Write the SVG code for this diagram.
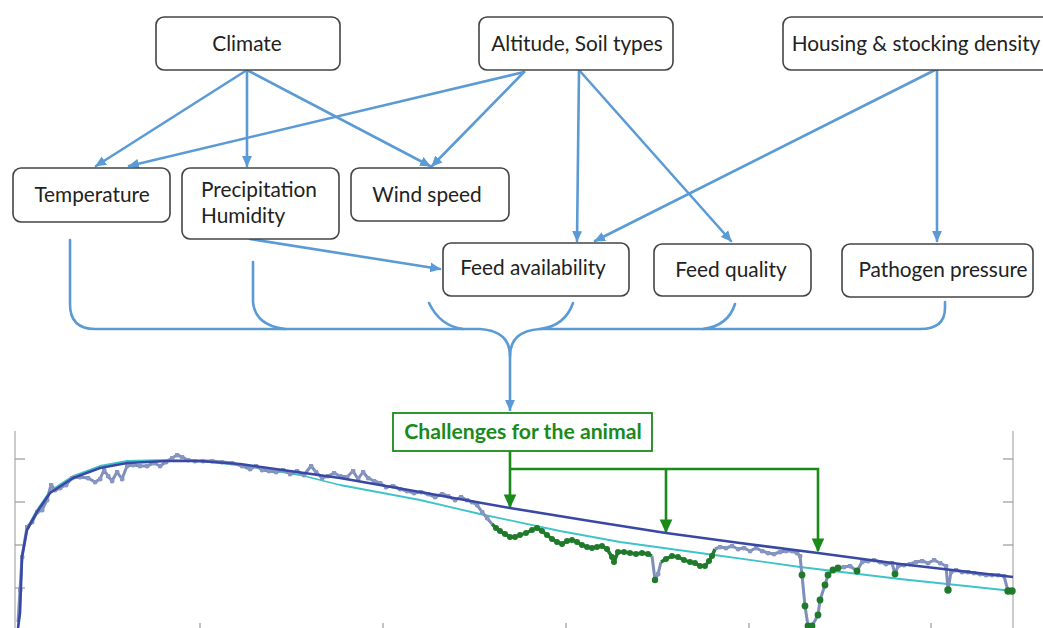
<svg xmlns="http://www.w3.org/2000/svg" width="1043" height="628" viewBox="0 0 1043 628">
<style>
.box{fill:#fff;stroke:#444;stroke-width:1.6}
.t{font-family:Lato,"Liberation Sans",sans-serif;font-size:20.8px;fill:#222}
.c{text-anchor:middle}
.con{fill:none;stroke:#5b9bd5;stroke-width:2.6;stroke-linecap:round}
.g{fill:none;stroke:#1a8a1a;stroke-width:2.6}
.axis{stroke:#bbb;stroke-width:1.5}
.tick{stroke:#999;stroke-width:1.2}
.obs{fill:none;stroke:#7f8fbc;stroke-width:3;stroke-linejoin:round;marker-mid:url(#dotg)}
.obsg{fill:none;stroke:#227a2e;stroke-width:3.4;stroke-linejoin:round;marker-mid:url(#dotgr)}
</style>
<defs>
<marker id="ab" viewBox="0 0 10 10" refX="9" refY="5" markerWidth="11" markerHeight="11" markerUnits="userSpaceOnUse" orient="auto">
<path d="M0,0.5 L10,5 L0,9.5 z" fill="#5b9bd5"/>
</marker>
<marker id="ag" viewBox="0 0 10 10" refX="9" refY="5" markerWidth="14" markerHeight="14" markerUnits="userSpaceOnUse" orient="auto">
<path d="M0,0.5 L10,5 L0,9.5 z" fill="#1a8a1a"/>
</marker>
<marker id="dotg" viewBox="0 0 6 6" refX="3" refY="3" markerWidth="5" markerHeight="5" markerUnits="userSpaceOnUse">
<circle cx="3" cy="3" r="3" fill="#8797c0"/>
</marker>
<marker id="dotgr" viewBox="0 0 6 6" refX="3" refY="3" markerWidth="6" markerHeight="6" markerUnits="userSpaceOnUse">
<circle cx="3" cy="3" r="3" fill="#1f7a2c"/>
</marker>
</defs>

<g id="connectors">
<line class="con" x1="247" y1="70" x2="96" y2="166" marker-end="url(#ab)"/>
<line class="con" x1="247" y1="70" x2="247" y2="166" marker-end="url(#ab)"/>
<line class="con" x1="247" y1="70" x2="430" y2="166" marker-end="url(#ab)"/>
<line class="con" x1="524" y1="72" x2="129" y2="166" marker-end="url(#ab)"/>
<line class="con" x1="524" y1="72" x2="432" y2="166" marker-end="url(#ab)"/>
<line class="con" x1="579" y1="70" x2="577" y2="241" marker-end="url(#ab)"/>
<line class="con" x1="579" y1="70" x2="731" y2="241" marker-end="url(#ab)"/>
<line class="con" x1="935" y1="70" x2="595" y2="241" marker-end="url(#ab)"/>
<line class="con" x1="937" y1="70" x2="937" y2="241" marker-end="url(#ab)"/>
<line class="con" x1="250" y1="239" x2="440" y2="269" marker-end="url(#ab)"/>
<path class="con" d="M70,240 L70,304 Q70,329 95,329 L480,329 Q510,331 510,356 L510,410" marker-end="url(#ab)"/>
<path class="con" d="M945,302 L945,308 Q945,329 920,329 L540,329 Q510,331 510,356"/>
<path class="con" d="M253,262 L253,302 Q255,325 285,329"/>
<path class="con" d="M429,303 Q440,326 463,329"/>
<path class="con" d="M573,303 Q565,326 540,329"/>
<path class="con" d="M735,304 Q728,326 703,329"/>
<line class="g" x1="510" y1="451" x2="510" y2="507" marker-end="url(#ag)"/>
<polyline class="g" points="510,469 818,469 818,551" marker-end="url(#ag)"/>
<line class="g" x1="666" y1="469" x2="666" y2="532" marker-end="url(#ag)"/>
</g>

<g id="climate"><rect class="box" x="156" y="17" width="184" height="53" rx="8"/><text class="t c" x="247" y="51">Climate</text></g>
<g id="altitude"><rect class="box" x="479" y="17" width="194" height="53" rx="8"/><text class="t c" x="577" y="51">Altitude, Soil types</text></g>
<g id="housing"><rect class="box" x="783" y="17" width="270" height="53" rx="8"/><text class="t c" x="916" y="51">Housing &amp; stocking density</text></g>
<g id="temperature"><rect class="box" x="13" y="168" width="157" height="54" rx="8"/><text class="t c" x="92" y="202">Temperature</text></g>
<g id="precipitation"><rect class="box" x="182" y="168" width="157" height="71" rx="8"/><text class="t" x="201" y="197">Precipitation</text><text class="t" x="201" y="223">Humidity</text></g>
<g id="wind"><rect class="box" x="351" y="168" width="158" height="53" rx="8"/><text class="t c" x="427" y="202">Wind speed</text></g>
<g id="feedavail"><rect class="box" x="443" y="243" width="186" height="53" rx="8"/><text class="t c" x="533" y="275">Feed availability</text></g>
<g id="feedquality"><rect class="box" x="654" y="244" width="157" height="52" rx="8"/><text class="t c" x="731" y="277">Feed quality</text></g>
<g id="pathogen"><rect class="box" x="842" y="244" width="191" height="53" rx="8"/><text class="t c" x="943" y="277">Pathogen pressure</text></g>
<g id="challenges"><rect x="393" y="413" width="259" height="38" fill="#fff" stroke="#1a8a1a" stroke-width="1.8"/><text x="523" y="439" text-anchor="middle" font-family="Lato,'Liberation Sans',sans-serif" font-size="21.2" font-weight="bold" fill="#1a8a1a">Challenges for the animal</text></g>

<g id="chart">
<line class="axis" x1="15" y1="431" x2="15" y2="628"/>
<line class="axis" x1="1013" y1="431" x2="1013" y2="628"/>
<g class="tick">
<line x1="15" y1="459" x2="25" y2="459"/><line x1="15" y1="502" x2="25" y2="502"/><line x1="15" y1="545" x2="25" y2="545"/><line x1="15" y1="588" x2="25" y2="588"/>
<line x1="1003" y1="459" x2="1013" y2="459"/><line x1="1003" y1="502" x2="1013" y2="502"/><line x1="1003" y1="545" x2="1013" y2="545"/>
<line x1="200" y1="623" x2="200" y2="628"/><line x1="383" y1="623" x2="383" y2="628"/><line x1="566" y1="623" x2="566" y2="628"/><line x1="749" y1="623" x2="749" y2="628"/><line x1="931" y1="623" x2="931" y2="628"/>
</g>
<polyline fill="none" stroke="#3ec4c8" stroke-width="1.8" stroke-linejoin="round" points="18,628 20,612 22,556 27,528 37,510 50,491 73,476 100,466 127,461 167,460 200,461 240,465 300,475 340,485 420,500 480,514 560,531 620,542 700,553 800,567 900,579 1013,591"/>
<polyline class="obs" points="18,622 20,590 22,557 27,527 32,522 37,512 42,510 47,500 51,485 55,490 60,488 66,485 72,478 80,477 88,478 95,482 100,479 104,470 108,476 112,481 117,472 122,479 127,466 133,465 140,466 147,466 154,463 160,466 166,462 172,458 177,455 182,457 188,460 195,461 203,461 212,461 222,462 232,463 242,466 250,469 256,466 262,470 269,471 276,472 283,470 290,474 297,471 304,475 311,466 316,472 322,478 328,476 334,473 340,476 347,477 353,471 358,479 363,472 368,478 374,481 380,483 386,487 393,486 400,489 407,491 414,493 421,492 428,494 435,497 442,494 448,496 455,500 461,497 467,500 472,502 477,505 482,512 487,518 492,524"/>
<polyline class="obsg" points="492,524 496,528 500,531 505,534 510,537 515,537 520,535 526,533 532,530 537,528 542,531 547,535 552,539 557,542 562,544 567,541 572,540 577,542 582,545 587,547 592,548 597,547 602,546 607,549 612,557 614,562 618,552 624,552 630,553 636,554 642,553 648,554 652,556"/>
<polyline class="obs" points="652,556 655,580 658,574 661,562"/>
<polyline class="obsg" points="661,562 666,559 672,556 678,557 684,560 690,562 695,563 700,566 705,566 709,561 712,556 715,549"/>
<polyline class="obs" points="715,549 720,547 726,548 732,546 738,549 744,548 750,551 756,548 762,551 768,553 774,554 780,552 786,551 792,551 797,553 800,556 802,575 805,606 808,626 812,626 818,615 820,600 825,585 828,575 833,570 838,568 844,567 850,566 857,571 862,562 868,561 874,560 880,562 886,564 892,563 895,574 898,566 904,565 910,564 916,562 922,561 928,563 934,560 940,563 946,566 948,590 951,572 956,570 962,572 968,572 974,573 980,574 986,575 992,575 998,575 1004,576 1008,591 1013,591"/>
<g fill="#1f7a2c">
<circle cx="802" cy="575" r="3.4"/><circle cx="805" cy="606" r="3.4"/><circle cx="808" cy="626" r="3.4"/><circle cx="812" cy="626" r="3.4"/><circle cx="818" cy="615" r="3.4"/><circle cx="820" cy="600" r="3.4"/><circle cx="825" cy="585" r="3.4"/><circle cx="828" cy="575" r="3.4"/><circle cx="833" cy="570" r="3.4"/><circle cx="838" cy="568" r="3.4"/><circle cx="857" cy="571" r="3.4"/><circle cx="895" cy="574" r="3.4"/><circle cx="948" cy="590" r="3.7"/><circle cx="1008" cy="591" r="3.7"/><circle cx="1012" cy="591" r="3.7"/><circle cx="655" cy="580" r="3.2"/>
</g>
<polyline fill="none" stroke="#3848a4" stroke-width="2.6" stroke-linejoin="round" points="18,628 20,613 22,557 27,530 37,512 50,493 73,478 100,468 127,463 167,461 200,461 240,464 340,478 420,492 510,508 590,521 666,533 740,543 818,553 900,564 1013,577"/>
</g>
</svg>
